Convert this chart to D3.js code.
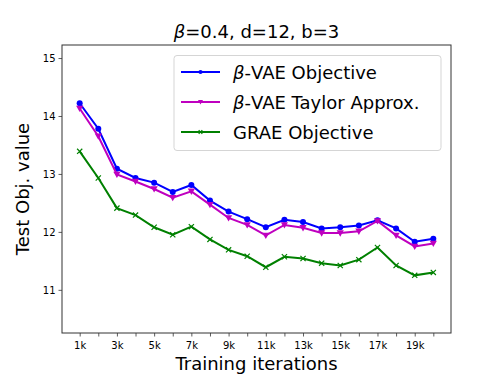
<!DOCTYPE html>
<html lang="en">
<head>
<meta charset="UTF-8">
<title>Test objective</title>
<script src="https://cdn.jsdelivr.net/npm/d3@7"></script>
<style>
body { margin: 0; background: #fff; }
text { font-family: "DejaVu Sans", sans-serif; fill: #000; }
</style>
</head>
<body>
<svg id="chart" width="500" height="375"></svg>
<script>
// iterations in thousands
var iters = d3.range(1, 21);
var tickLabels = ["1k", "3k", "5k", "7k", "9k", "11k", "13k", "15k", "17k", "19k"];
var yTicks = [11, 12, 13, 14, 15];

var vaeObjective = [14.22, 13.78, 13.09, 12.93, 12.85, 12.69, 12.81, 12.54, 12.35, 12.22,
	12.08, 12.21, 12.17, 12.06, 12.08, 12.11, 12.20, 12.06, 11.83, 11.88];
var taylorApprox = [14.13, 13.65, 12.99, 12.87, 12.74, 12.59, 12.70, 12.47, 12.24, 12.12,
	11.94, 12.12, 12.07, 11.98, 11.98, 12.01, 12.19, 11.94, 11.75, 11.80];
var graeObjective = [13.39, 12.93, 12.41, 12.29, 12.08, 11.95, 12.09, 11.87, 11.69, 11.58,
	11.39, 11.57, 11.54, 11.46, 11.42, 11.52, 11.73, 11.42, 11.25, 11.30];

var series = [
	{beta: true, rest: "-VAE Objective", color: "blue", marker: "circle", values: vaeObjective},
	{beta: true, rest: "-VAE Taylor Approx.", color: "#bf00bf", marker: "tri", values: taylorApprox},
	{beta: false, rest: "GRAE Objective", color: "green", marker: "x", values: graeObjective}
];

function makeChart() {
	var pxLeft = 62, pxRight = 451, pxTop = 45, pxBottom = 333;

	var svg = d3.select("#chart");

	var scX = d3.scaleLinear().domain([0.05, 20.95]).range([pxLeft, pxRight]);
	var scY = d3.scaleLinear().domain([10.255, 15.225]).range([pxBottom, pxTop]);

	// axes
	var xAxis = d3.axisBottom(scX)
		.tickValues(iters)
		.tickSize(3.5)
		.tickFormat(d => d % 2 === 1 ? tickLabels[(d - 1) / 2] : "");
	var yAxis = d3.axisLeft(scY)
		.tickValues(yTicks)
		.tickSize(3.5)
		.tickFormat(d3.format("d"));

	var gx = svg.append("g").attr("transform", "translate(0," + pxBottom + ")").call(xAxis);
	var gy = svg.append("g").attr("transform", "translate(" + pxLeft + ",0)").call(yAxis);
	[gx, gy].forEach(g => {
		g.select(".domain").remove();
		g.selectAll(".tick line").attr("stroke", "#333").attr("stroke-width", 0.8);
		g.selectAll(".tick text").style("font-family", "DejaVu Sans").style("font-size", "10px").attr("fill", "#000");
	});
	gx.selectAll(".tick text").attr("dy", "0.95em");

	svg.append("rect")
		.attr("x", pxLeft).attr("y", pxTop)
		.attr("width", pxRight - pxLeft).attr("height", pxBottom - pxTop)
		.attr("fill", "none").attr("stroke", "#333").attr("stroke-width", 1);

	// lines
	var lineMaker = d3.line()
		.x((d, i) => scX(iters[i]))
		.y(d => scY(d));

	function drawMarker(g, type, color, x, y, s) {
		if (type === "circle") {
			g.append("circle").attr("cx", x).attr("cy", y).attr("r", 3 * s).attr("fill", color);
		} else if (type === "tri") {
			var r = 3.6 * s;
			g.append("path")
				.attr("d", "M" + (x - r) + "," + (y - r * 0.75) + "L" + (x + r) + "," + (y - r * 0.75) + "L" + x + "," + (y + r) + "Z")
				.attr("fill", color);
		} else {
			var r2 = 2.6 * s;
			g.append("path")
				.attr("d", "M" + (x - r2) + "," + (y - r2) + "L" + (x + r2) + "," + (y + r2) + "M" + (x - r2) + "," + (y + r2) + "L" + (x + r2) + "," + (y - r2))
				.attr("stroke", color).attr("stroke-width", 1.2).attr("fill", "none");
		}
	}

	series.forEach(s => {
		var g = svg.append("g");
		g.append("path")
			.attr("d", lineMaker(s.values))
			.attr("fill", "none")
			.attr("stroke", s.color)
			.attr("stroke-width", 2);
		s.values.forEach((v, i) => drawMarker(g, s.marker, s.color, scX(iters[i]), scY(v), 1));
	});

	// legend
	var leg = svg.append("g");
	leg.append("rect")
		.attr("x", 174).attr("y", 55.5).attr("width", 267).attr("height", 95)
		.attr("rx", 3)
		.attr("fill", "#fff").attr("fill-opacity", 0.8)
		.attr("stroke", "#d5d5d5").attr("stroke-width", 1);
	series.forEach((s, i) => {
		var y = 72 + i * 30;
		leg.append("line")
			.attr("x1", 181).attr("x2", 220).attr("y1", y).attr("y2", y)
			.attr("stroke", s.color).attr("stroke-width", 2);
		drawMarker(leg, s.marker, s.color, 200.5, y, 0.7);
		var t = leg.append("text")
			.attr("x", 233).attr("y", y + 6.5)
			.style("font-size", "18px");
		if (s.beta) {
			t.append("tspan").style("font-style", "italic").text("β");
			t.append("tspan").text(s.rest);
		} else {
			t.text(s.rest);
		}
	});

	// title and labels
	var title = svg.append("text")
		.attr("x", (pxLeft + pxRight) / 2).attr("y", 38)
		.attr("text-anchor", "middle")
		.style("font-size", "18px");
	title.append("tspan").style("font-style", "italic").text("β");
	title.append("tspan").text("=0.4, d=12, b=3");

	svg.append("text")
		.attr("x", (pxLeft + pxRight) / 2).attr("y", 370)
		.attr("text-anchor", "middle")
		.style("font-size", "18px")
		.text("Training iterations");

	svg.append("text")
		.attr("transform", "translate(29," + (pxTop + pxBottom) / 2 + ") rotate(-90)")
		.attr("text-anchor", "middle")
		.style("font-size", "18px")
		.text("Test Obj. value");
}

makeChart();
</script>
</body>
</html>
